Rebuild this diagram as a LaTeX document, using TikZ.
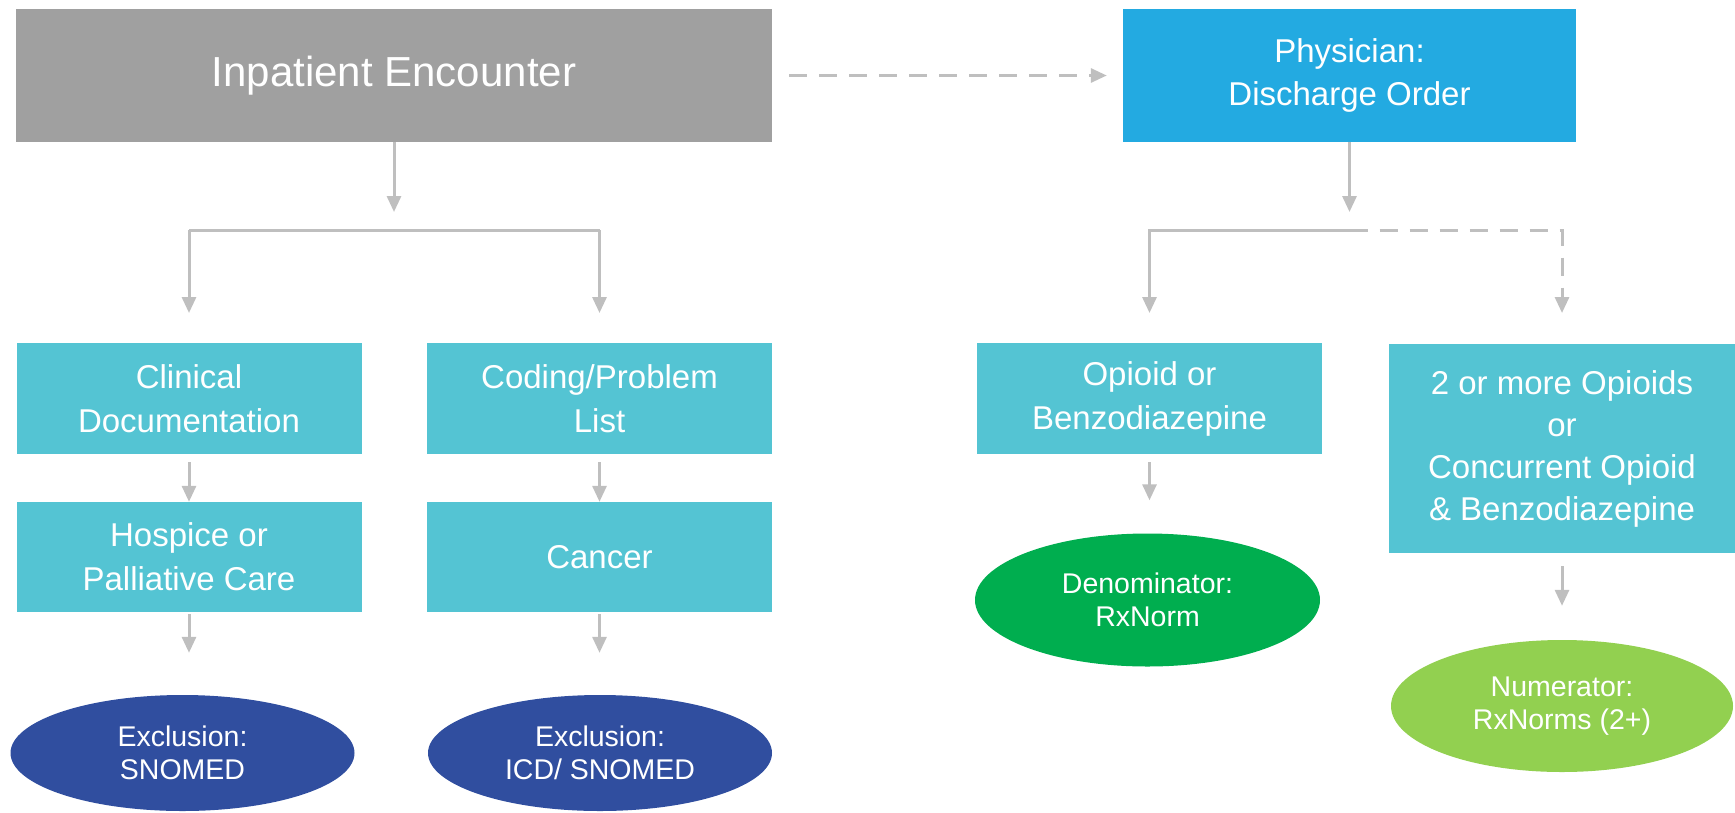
\documentclass[tikz,border=0pt]{standalone}
\usepackage{fontspec}
\setmainfont{Liberation Sans}
\usetikzlibrary{shapes.geometric,arrows.meta}
\definecolor{boxgray}{HTML}{A0A0A0}
\definecolor{boxblue}{HTML}{23AAE1}
\definecolor{boxteal}{HTML}{54C4D3}
\definecolor{ovdark}{HTML}{304E9F}
\definecolor{ovgreen}{HTML}{00AE4F}
\definecolor{ovlight}{HTML}{92D050}
\definecolor{lngray}{HTML}{BFBFBF}
\tikzset{
  bx/.style={rectangle, fill=boxteal, text=white, inner sep=0pt, align=center,
    minimum width=345pt, minimum height=111pt,
    font=\fontsize{33}{44}\selectfont},
  ov/.style={ellipse, text=white, inner sep=0pt, align=center,
    minimum width=344pt, minimum height=116pt,
    font=\fontsize{28.5}{33}\selectfont},
  arr/.style={draw=lngray, line width=3pt, -{Triangle[length=16pt,width=14pt]}},
  ln/.style={draw=lngray, line width=3pt},
  dsh/.style={dash pattern=on 18pt off 12pt}
}
\begin{document}
\begin{tikzpicture}[x=1pt,y=-1pt]
\useasboundingbox (0,0) rectangle (1735,812);
% top boxes
\node[rectangle, fill=boxgray, text=white, inner sep=0pt, minimum width=756pt, minimum height=133pt,
  font=\fontsize{42}{50}\selectfont] (inp) at (394,75.5) {Inpatient Encounter};
\node[rectangle, fill=boxblue, text=white, inner sep=0pt, align=center, minimum width=453pt, minimum height=133pt,
  font=\fontsize{33}{43}\selectfont] (phy) at (1349.5,75.5) {Physician:\\Discharge Order};
% second row
\node[bx] (clin) at (189,398.5) {Clinical\\Documentation};
\node[bx] (cod) at (599.5,398.5) {Coding/Problem\\List};
\node[bx] (opi) at (1149.5,398.5) {Opioid or\\Benzodiazepine};
\node[bx, minimum width=346pt, minimum height=209pt, font=\fontsize{33}{42}\selectfont] (two) at (1562,448.5)
  {2 or more Opioids\\or\\Concurrent Opioid\\\& Benzodiazepine};
% third row
\node[bx, minimum height=110pt] (hos) at (189,557) {Hospice or\\Palliative Care};
\node[bx, minimum height=110pt] (can) at (599.5,557) {Cancer};
% ovals
\node[ov, fill=ovdark] (ex1) at (182.5,753) {Exclusion:\\SNOMED};
\node[ov, fill=ovdark] (ex2) at (600,753) {Exclusion:\\ICD/ SNOMED};
\node[ov, fill=ovgreen, minimum height=133pt, minimum width=345pt] (den) at (1147.5,600) {Denominator:\\RxNorm};
\node[ov, fill=ovlight, minimum height=132pt, minimum width=342pt] (num) at (1562,706) {Numerator:\\RxNorms (2+)};
% coordinates
\coordinate (a1) at (394,212);
\coordinate (bl) at (189,230);
\coordinate (br) at (599.5,230);
\coordinate (el) at (189,313);
\coordinate (er) at (599.5,313);
\coordinate (a2) at (1349.5,212);
\coordinate (pm) at (1349.5,230);
\coordinate (pl) at (1149.5,230);
\coordinate (pr) at (1562,230);
\coordinate (ql) at (1149.5,313);
\coordinate (qr) at (1562,313);
% connectors
\draw[arr, dsh, shorten <=17pt, shorten >=16pt] (inp.east) -- (phy.west);
\draw[arr] (inp.south) -- (a1);
\draw[ln] (bl) -- (br);
\draw[arr] (bl) -- (el);
\draw[arr] (br) -- (er);
\draw[arr, shorten <=8pt] (clin.south) -- (hos.north);
\draw[arr, shorten <=8pt] (cod.south) -- (can.north);
\draw[arr, shorten <=2pt, shorten >=42pt] (hos.south) -- (ex1.north -| hos.south);
\draw[arr, shorten <=2pt, shorten >=42pt] (can.south) -- (ex2.north -| can.south);
\draw[arr] (phy.south) -- (a2);
\draw[arr] (pm) -- (pl) -- (ql);
\draw[arr, dsh] (pm) -- (pr) -- (qr);
\draw[arr, shorten <=8pt, shorten >=33pt] (opi.south) -- (den.north -| opi.south);
\draw[arr, shorten <=13pt, shorten >=34pt] (two.south) -- (num.north);
\end{tikzpicture}
\end{document}
